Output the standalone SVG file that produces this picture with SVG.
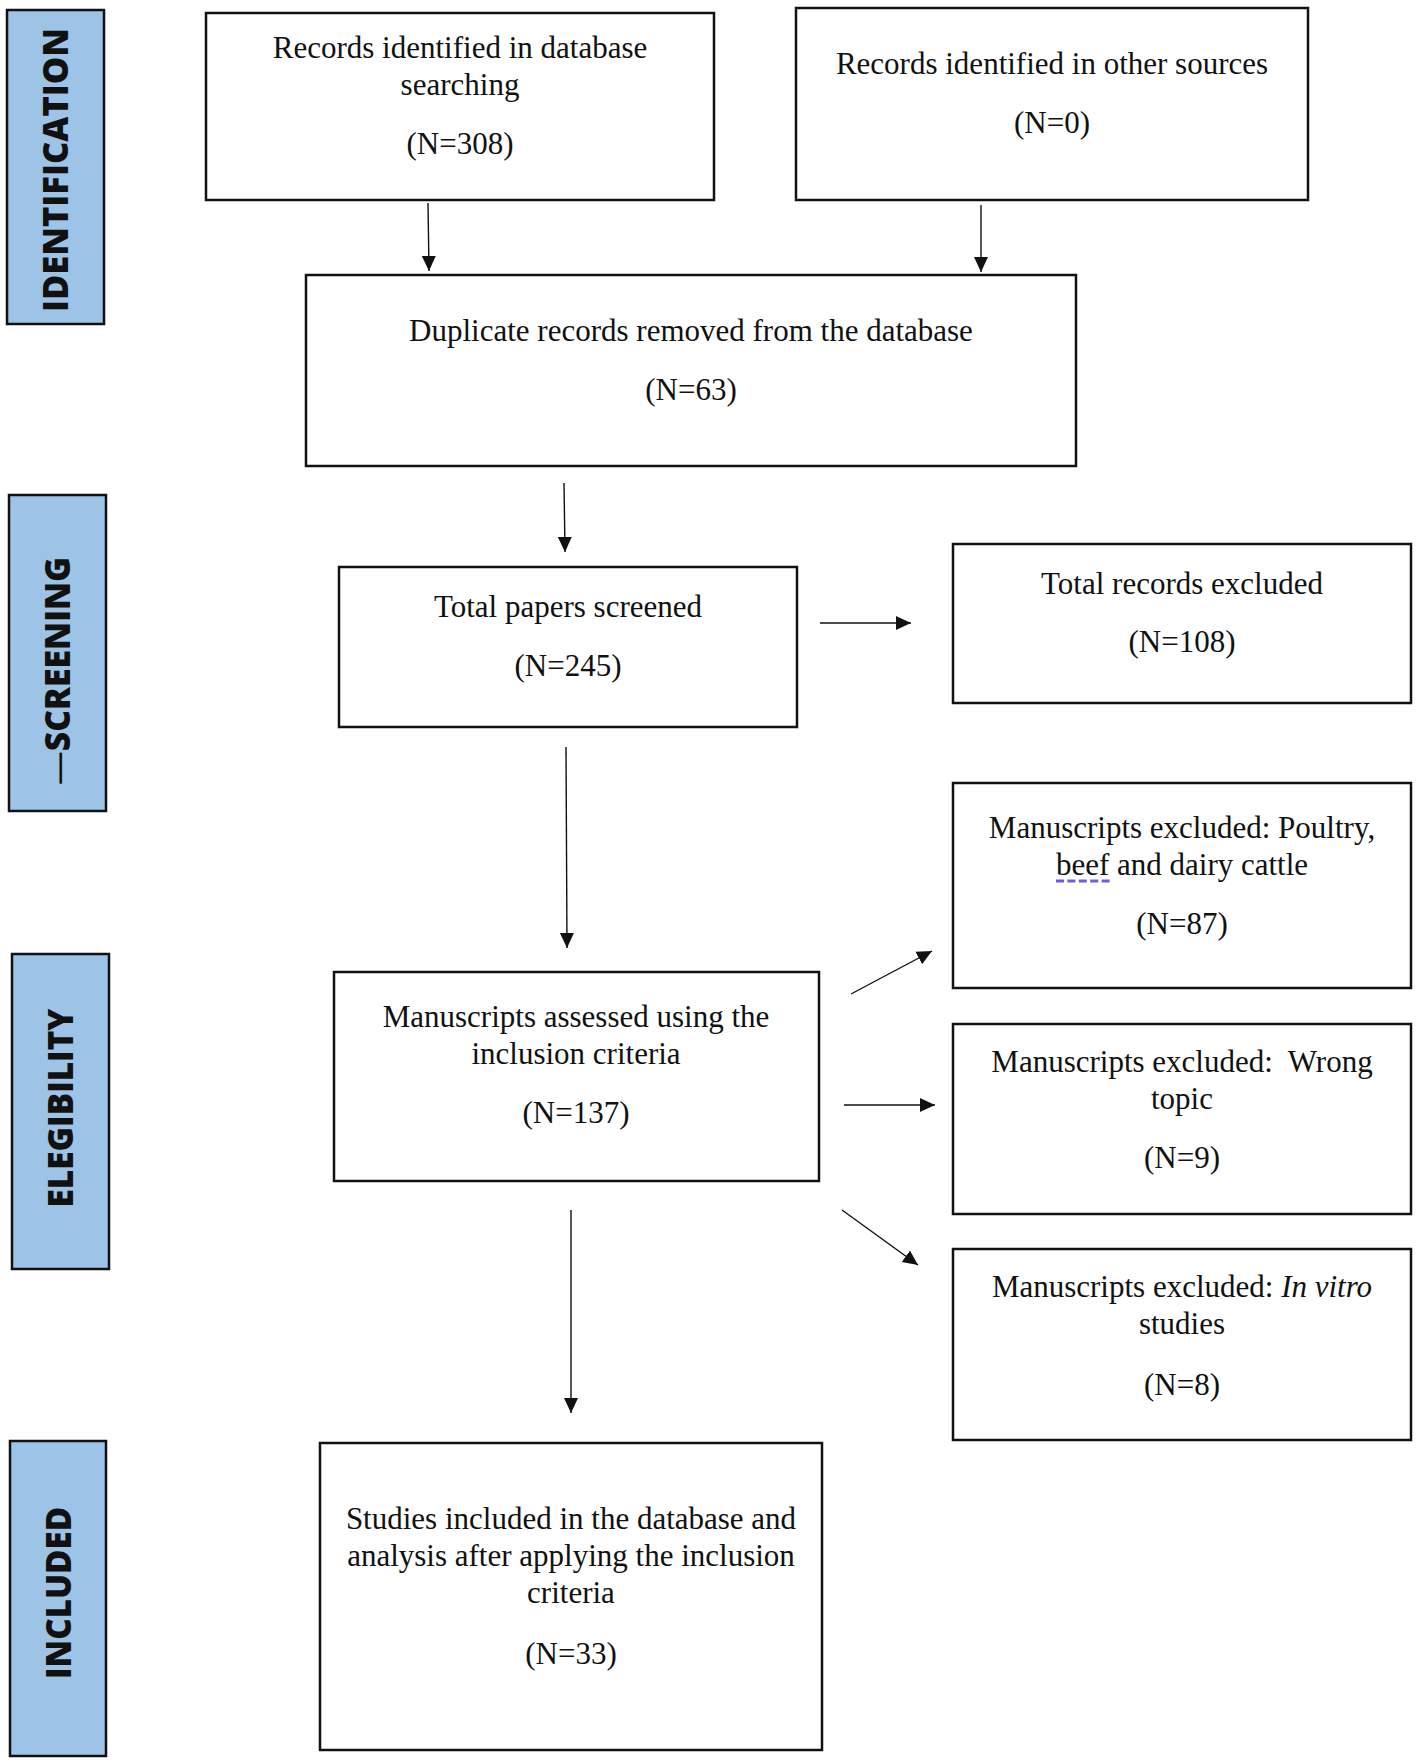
<svg xmlns="http://www.w3.org/2000/svg" width="1418" height="1764" viewBox="0 0 1418 1764">
<style>
.bar{fill:#9DC3E6;stroke:#111;stroke-width:2.5}
.lbl{font-family:"Open Sans","DejaVu Sans",sans-serif;font-weight:800;font-size:35px;fill:#111;text-anchor:middle}
.box{fill:#fff;stroke:#111;stroke-width:2.5}
.t{font-family:"Liberation Serif","Times New Roman",serif;font-size:31px;fill:#111;text-anchor:middle}
.c{stroke:#111;stroke-width:1.4;fill:none;marker-end:url(#ah)}
</style>
<defs>
<marker id="ah" markerUnits="userSpaceOnUse" markerWidth="16" markerHeight="16" viewBox="0 0 16 16" refX="15" refY="8" orient="auto">
<path d="M0,1 L15,8 L0,15 Z" fill="#111"/>
</marker>
</defs>
<rect width="1418" height="1764" fill="#fff"/>

<g id="phase-identification">
<rect class="bar" x="7" y="10" width="97" height="314"/>
<text class="lbl" transform="translate(68,170) rotate(-90)" textLength="284" lengthAdjust="spacingAndGlyphs">IDENTIFICATION</text>
</g>
<g id="phase-screening">
<rect class="bar" x="9" y="495" width="97" height="316"/>
<text class="lbl" transform="translate(70,671) rotate(-90)" textLength="228" lengthAdjust="spacingAndGlyphs"><tspan font-weight="400">—</tspan>SCREENING</text>
</g>
<g id="phase-eligibility">
<rect class="bar" x="12" y="954" width="97" height="315"/>
<text class="lbl" transform="translate(73,1108) rotate(-90)" textLength="199" lengthAdjust="spacingAndGlyphs">ELEGIBILITY</text>
</g>
<g id="phase-included">
<rect class="bar" x="10" y="1441" width="96" height="315"/>
<text class="lbl" transform="translate(71,1593) rotate(-90)" textLength="172" lengthAdjust="spacingAndGlyphs">INCLUDED</text>
</g>

<g id="n-db">
<rect class="box" x="206" y="13" width="508" height="187"/>
<text class="t" x="460" y="58">Records identified in database</text>
<text class="t" x="460" y="95">searching</text>
<text class="t" x="460" y="154">(N=308)</text>
</g>
<g id="n-other">
<rect class="box" x="796" y="8" width="512" height="192"/>
<text class="t" x="1052" y="74">Records identified in other sources</text>
<text class="t" x="1052" y="133">(N=0)</text>
</g>
<g id="n-dup">
<rect class="box" x="306" y="275" width="770" height="191"/>
<text class="t" x="691" y="341">Duplicate records removed from the database</text>
<text class="t" x="691" y="400">(N=63)</text>
</g>
<g id="n-screened">
<rect class="box" x="339" y="567" width="458" height="160"/>
<text class="t" x="568" y="617">Total papers screened</text>
<text class="t" x="568" y="676">(N=245)</text>
</g>
<g id="n-excl">
<rect class="box" x="953" y="544" width="458" height="159"/>
<text class="t" x="1182" y="594">Total records excluded</text>
<text class="t" x="1182" y="652">(N=108)</text>
</g>
<g id="n-poultry">
<rect class="box" x="953" y="783" width="458" height="205"/>
<text class="t" x="1182" y="838">Manuscripts excluded: Poultry,</text>
<text class="t" x="1182" y="875">beef and dairy cattle</text>
<line x1="1056" y1="881" x2="1110" y2="881" stroke="#6B5CE7" stroke-width="3" stroke-dasharray="8,3.4"/>
<text class="t" x="1182" y="934">(N=87)</text>
</g>
<g id="n-assessed">
<rect class="box" x="334" y="972" width="485" height="209"/>
<text class="t" x="576" y="1027">Manuscripts assessed using the</text>
<text class="t" x="576" y="1064">inclusion criteria</text>
<text class="t" x="576" y="1123">(N=137)</text>
</g>
<g id="n-wrong">
<rect class="box" x="953" y="1024" width="458" height="190"/>
<text class="t" x="1182" y="1072" xml:space="preserve">Manuscripts excluded:  Wrong</text>
<text class="t" x="1182" y="1109">topic</text>
<text class="t" x="1182" y="1168">(N=9)</text>
</g>
<g id="n-vitro">
<rect class="box" x="953" y="1249" width="458" height="191"/>
<text class="t" x="1182" y="1297">Manuscripts excluded: <tspan font-style="italic">In vitro</tspan></text>
<text class="t" x="1182" y="1334">studies</text>
<text class="t" x="1182" y="1395">(N=8)</text>
</g>
<g id="n-included">
<rect class="box" x="320" y="1443" width="502" height="307"/>
<text class="t" x="571" y="1529">Studies included in the database and</text>
<text class="t" x="571" y="1566">analysis after applying the inclusion</text>
<text class="t" x="571" y="1603">criteria</text>
<text class="t" x="571" y="1664">(N=33)</text>
</g>

<g id="connectors">
<line class="c" x1="428" y1="203" x2="429" y2="271"/>
<line class="c" x1="981" y1="205" x2="981" y2="272"/>
<line class="c" x1="564" y1="483" x2="565" y2="552"/>
<line class="c" x1="820" y1="623" x2="911" y2="623"/>
<line class="c" x1="566" y1="747" x2="567" y2="948"/>
<line class="c" x1="851" y1="994" x2="932" y2="951"/>
<line class="c" x1="844" y1="1105" x2="935" y2="1105"/>
<line class="c" x1="842" y1="1210" x2="918" y2="1265"/>
<line class="c" x1="571" y1="1210" x2="571" y2="1413"/>
</g>
</svg>
